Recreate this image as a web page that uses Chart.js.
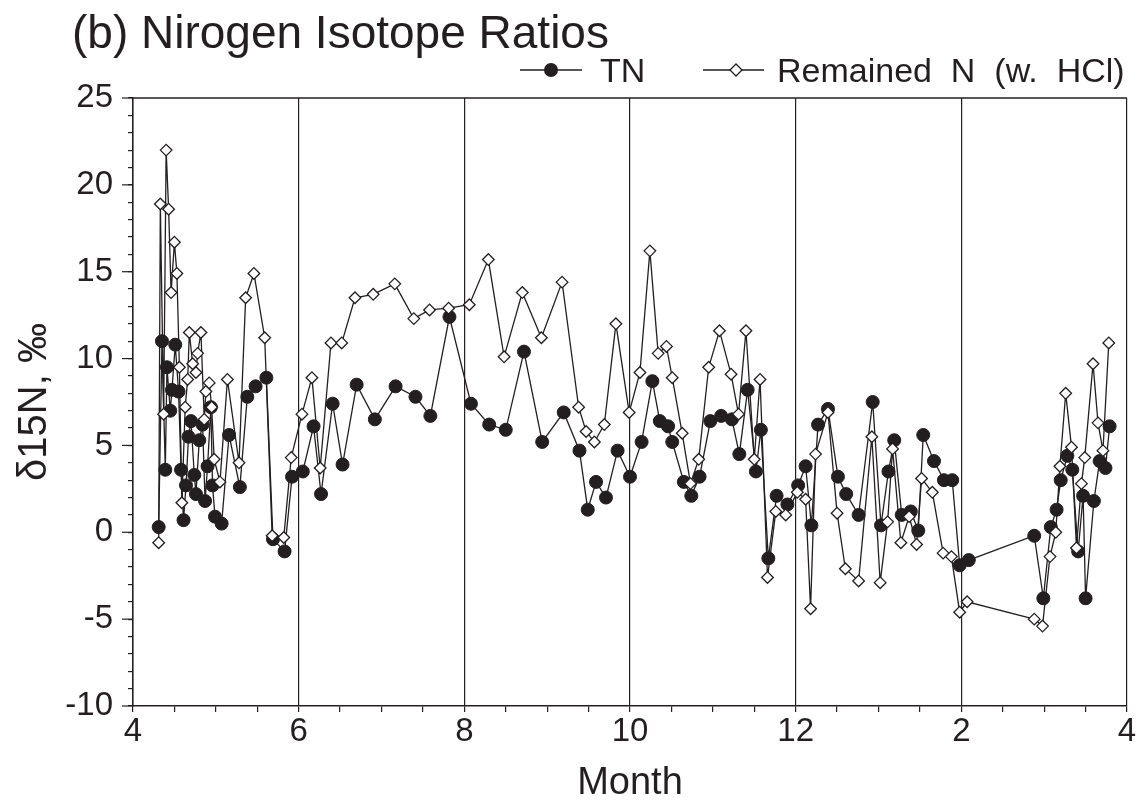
<!DOCTYPE html>
<html>
<head>
<meta charset="utf-8">
<script src="https://cdn.jsdelivr.net/npm/chart.js@4.4.1/dist/chart.umd.min.js"></script>
<style>
  html, body { margin: 0; padding: 0; background: #fff; }
  canvas { display: block; }
</style>
</head>
<body>
<canvas id="chart" width="1143" height="802"></canvas>
<script>
// month axis runs 4 .. 16 (Apr of one year to Apr of the next)
const tnMonth = [4.31,4.35,4.39,4.41,4.45,4.47,4.51,4.55,4.58,4.61,4.64,4.67,4.70,4.74,4.76,4.80,4.84,4.87,4.90,4.94,4.96,4.99,
  5.07,5.16,5.29,5.38,5.48,5.61,5.69,5.83,5.92,6.05,6.18,6.27,6.41,6.53,6.70,6.92,7.17,7.41,7.59,7.82,
  8.08,8.30,8.50,8.72,8.94,9.20,9.39,9.49,9.59,9.71,9.85,10.00,10.14,10.27,10.36,10.46,10.51,10.65,10.74,10.84,10.97,
  11.10,11.23,11.32,11.42,11.52,11.58,11.67,11.77,11.90,12.03,12.12,12.19,12.27,12.39,12.51,12.61,12.76,12.93,
  13.03,13.12,13.19,13.28,13.39,13.48,13.54,13.67,13.79,13.89,13.98,14.09,14.88,14.99,
  15.08,15.15,15.20,15.28,15.34,15.41,15.47,15.50,15.60,15.67,15.74,15.79];
const tnValue = [0.3,11.0,3.6,9.5,7.0,8.2,10.8,8.1,3.6,0.7,2.7,5.5,6.4,3.3,2.2,5.3,6.2,1.8,3.8,7.2,2.7,0.9,
  0.5,5.6,2.6,7.8,8.4,8.9,-0.4,-1.1,3.2,3.5,6.1,2.2,7.4,3.9,8.5,6.5,8.4,7.8,6.7,12.4,
  7.4,6.2,5.9,10.4,5.2,6.9,4.7,1.3,2.9,2.0,4.7,3.2,5.2,8.7,6.4,6.1,5.2,2.9,2.1,3.2,6.4,
  6.7,6.5,4.5,8.2,3.5,5.9,-1.5,2.1,1.6,2.7,3.8,0.4,6.2,7.1,3.2,2.2,1.0,7.5,
  0.4,3.5,5.3,1.0,1.2,0.1,5.6,4.1,3.0,3.0,-1.9,-1.6,-0.2,-3.8,
  0.3,1.3,3.0,4.4,3.6,-1.1,2.1,-3.8,1.8,4.1,3.7,6.1];

const remMonth = [4.31,4.33,4.37,4.40,4.43,4.46,4.50,4.53,4.56,4.59,4.63,4.66,4.68,4.72,4.76,4.78,4.82,4.86,4.88,4.92,4.95,4.98,
  5.05,5.14,5.28,5.36,5.46,5.59,5.68,5.82,5.91,6.04,6.16,6.26,6.39,6.52,6.68,6.90,7.16,7.39,7.58,7.81,
  8.06,8.29,8.48,8.70,8.93,9.18,9.38,9.47,9.57,9.69,9.83,9.99,10.12,10.24,10.34,10.44,10.51,10.63,10.73,10.83,10.95,
  11.08,11.22,11.31,11.40,11.50,11.57,11.66,11.76,11.88,12.02,12.12,12.18,12.24,12.39,12.50,12.60,12.76,12.92,
  13.02,13.11,13.17,13.27,13.37,13.46,13.52,13.65,13.78,13.88,13.98,14.07,14.88,14.98,
  15.07,15.14,15.19,15.26,15.33,15.39,15.45,15.49,15.59,15.65,15.71,15.78];
const remValue = [-0.6,18.9,6.8,22.0,18.6,13.8,16.7,14.9,9.5,1.7,7.2,8.8,11.5,9.7,9.2,10.3,11.5,6.5,8.1,8.6,7.2,4.2,
  2.9,8.8,4.0,13.5,14.9,11.2,-0.2,-0.3,4.3,6.8,8.9,3.7,10.9,10.9,13.5,13.7,14.3,12.3,12.8,12.9,
  13.1,15.7,10.1,13.8,11.2,14.4,7.2,5.8,5.2,6.2,12.0,6.9,9.2,16.2,10.3,10.7,8.9,5.7,2.8,4.2,9.5,
  11.6,9.1,6.8,11.6,4.2,8.8,-2.6,1.2,1.0,2.3,1.9,-4.4,4.5,6.9,1.1,-2.1,-2.8,5.5,
  -2.9,0.6,4.8,-0.6,0.9,-0.7,3.1,2.3,-1.2,-1.4,-4.6,-4.0,-5.0,-5.4,
  -1.4,0.0,3.8,8.0,4.9,-0.9,2.8,4.3,9.7,6.3,4.7,10.9];

const monthTicks = [4, 6, 8, 10, 12, 14, 16];
const monthLabels = ['4', '6', '8', '10', '12', '2', '4'];
const deltaTicks = [-10, -5, 0, 5, 10, 15, 20, 25];

const ink = '#231f20';
const family = '"Liberation Sans", Arial, sans-serif';

const toPoints = (xs, ys) => xs.map((x, i) => ({x: x, y: ys[i]}));

// top frame line, long major ticks on the y axis, title and legend
const decor = {
  id: 'decor',
  afterDraw(chart) {
    const {ctx, chartArea: a, scales} = chart;
    ctx.save();
    ctx.strokeStyle = ink;
    ctx.lineWidth = 1.5;
    ctx.beginPath();
    ctx.moveTo(a.left, a.top);
    ctx.lineTo(a.right, a.top);
    ctx.stroke();

    ctx.lineWidth = 1.2;
    deltaTicks.forEach(v => {
      const y = scales.y.getPixelForValue(v);
      ctx.beginPath();
      ctx.moveTo(a.left - 11, y);
      ctx.lineTo(a.left, y);
      ctx.stroke();
    });

    ctx.fillStyle = ink;
    ctx.textBaseline = 'alphabetic';
    ctx.textAlign = 'left';
    ctx.font = '46px ' + family;
    ctx.fillText('(b) Nirogen Isotope Ratios', 72, 48);

    // legend
    const ly = 70;
    ctx.lineWidth = 1.3;
    ctx.beginPath();
    ctx.moveTo(520, ly); ctx.lineTo(582, ly);
    ctx.moveTo(703, ly); ctx.lineTo(764, ly);
    ctx.stroke();
    ctx.beginPath();
    ctx.arc(551, ly, 7, 0, Math.PI * 2);
    ctx.fill();
    ctx.beginPath();
    ctx.moveTo(730, ly); ctx.lineTo(736, ly - 6); ctx.lineTo(742, ly); ctx.lineTo(736, ly + 6);
    ctx.closePath();
    ctx.fillStyle = '#fff';
    ctx.fill();
    ctx.stroke();
    ctx.fillStyle = ink;
    ctx.font = '34px ' + family;
    ctx.fillText('TN', 600, 82);
    ctx.fillText('Remained  N  (w.  HCl)', 777, 82);
    ctx.restore();
  }
};

new Chart(document.getElementById('chart').getContext('2d'), {
  type: 'line',
  data: {
    datasets: [
      {
        label: 'TN',
        data: toPoints(tnMonth, tnValue),
        order: 2,
        borderColor: ink,
        borderWidth: 1.3,
        pointStyle: 'circle',
        pointRadius: 6.5,
        pointBackgroundColor: ink,
        pointBorderColor: ink,
        pointBorderWidth: 1,
        tension: 0
      },
      {
        label: 'Remained N (w. HCl)',
        data: toPoints(remMonth, remValue),
        order: 1,
        borderColor: ink,
        borderWidth: 1.3,
        pointStyle: 'rectRot',
        pointRadius: 5.8,
        pointBackgroundColor: '#fff',
        pointBorderColor: ink,
        pointBorderWidth: 1.3,
        tension: 0
      }
    ]
  },
  options: {
    responsive: false,
    animation: false,
    devicePixelRatio: 1,
    layout: {padding: {top: 98, left: 0, right: 16, bottom: 0}},
    plugins: {legend: {display: false}, tooltip: {enabled: false}},
    scales: {
      x: {
        type: 'linear',
        min: 4,
        max: 16,
        afterFit: s => { s.height = 96; },
        border: {display: true, color: ink, width: 1.5},
        grid: {
          color: c => (c.tick && monthTicks.includes(c.tick.value)) ? ink : 'rgba(0,0,0,0)',
          tickColor: ink,
          tickLength: 6,
          lineWidth: 1.2
        },
        ticks: {
          stepSize: 0.5,
          autoSkip: false,
          maxRotation: 0,
          padding: 0,
          color: ink,
          font: {family: family, size: 33},
          callback: v => monthTicks.includes(v) ? monthLabels[monthTicks.indexOf(v)] : ''
        },
        title: {
          display: true,
          text: 'Month',
          color: ink,
          font: {family: family, size: 38},
          padding: {top: 0, bottom: -4}
        }
      },
      y: {
        min: -10,
        max: 25,
        afterFit: s => { s.width = 133; },
        border: {display: true, color: ink, width: 1.5},
        grid: {drawOnChartArea: false, tickColor: ink, tickLength: 5, lineWidth: 1.2},
        ticks: {
          stepSize: 1,
          autoSkip: false,
          padding: 15,
          color: ink,
          font: {family: family, size: 33},
          callback: v => deltaTicks.includes(v) ? String(v) : ''
        },
        title: {
          display: true,
          text: 'δ15N, ‰',
          color: ink,
          font: {family: family, size: 40},
          padding: {top: 11, bottom: 0}
        }
      }
    }
  },
  plugins: [decor]
});
</script>
</body>
</html>
